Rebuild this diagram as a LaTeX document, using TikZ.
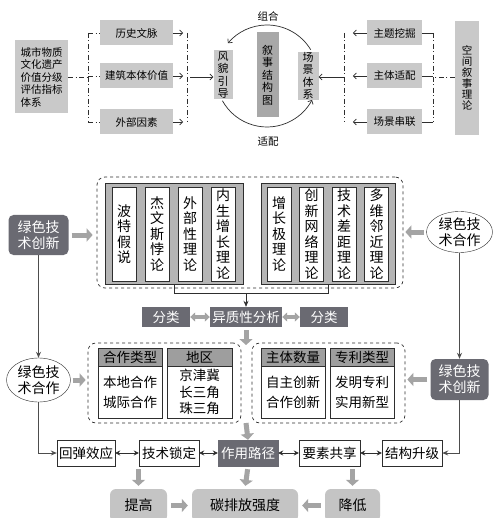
\documentclass[tikz,border=0pt]{standalone}
\usepackage{fontspec}
\setmainfont{Noto Sans CJK SC}
\usetikzlibrary{positioning,arrows.meta,calc,shapes.geometric}
\definecolor{boxgray}{HTML}{C9C9C9}
\definecolor{coregray}{HTML}{A8A8A8}
\definecolor{darkbox}{HTML}{6A6A72}
\definecolor{grpgray}{HTML}{B5B5B5}
\definecolor{hdrgray}{HTML}{9E9E9E}
\definecolor{fatgray}{HTML}{A4A4A4}
\definecolor{botgray}{HTML}{C4C4C4}
\definecolor{ink}{HTML}{2E2E2E}

\begin{document}
\begin{tikzpicture}[x=1pt,y=-1pt,
    every node/.style={inner sep=1pt},
    gbox/.style={fill=boxgray,minimum height=25pt,font=\fontsize{10.5}{12.5}\selectfont},
    vbox/.style={fill=boxgray,align=center,inner sep=0pt,font=\fontsize{11}{12.5}\selectfont},
    col/.style={draw=ink,fill=white,minimum width=24pt,minimum height=94pt,inner sep=0pt,align=center,font=\fontsize{14}{15.5}\selectfont},
    grp/.style={draw=ink,fill=grpgray,minimum height=101pt},
    dbox/.style={fill=darkbox,text=white,minimum height=20pt,font=\fontsize{13.5}{15}\selectfont},
    wbox/.style={draw=ink,fill=white,minimum height=26pt,font=\fontsize{13.5}{15}\selectfont},
    hdr/.style={draw=ink,fill=hdrgray,minimum height=18pt,font=\fontsize{13.5}{15}\selectfont},
    tbody/.style={draw=ink,fill=white,minimum height=52pt,align=center},
    dashbox/.style={draw=ink,dashed,line width=0.7pt,rounded corners=8pt},
    gdark/.style={fill=darkbox,text=white,rounded corners=5pt,align=center,font=\fontsize{14}{16}\selectfont},
    gell/.style={ellipse,draw=ink,fill=white,inner sep=0pt,align=center,font=\fontsize{14}{16}\selectfont},
    bbox/.style={fill=botgray,rounded corners=6pt,minimum height=33pt,font=\fontsize{14}{16}\selectfont},
    ddline/.style={ink,line width=0.9pt,dash pattern=on 5pt off 2.5pt on 1pt off 2.5pt},
    conn/.style={ink,line width=0.7pt,-{Straight Barb[length=3pt,width=6pt]}},
    vline/.style={ink!85,line width=1pt,-{Stealth[length=6pt,width=5pt]}},
    fat/.style={fatgray,line width=5pt,-{Triangle[length=6pt,width=13pt]}},
    fattwo/.style={fatgray,line width=3.5pt,{Triangle[length=5pt,width=9pt]}-{Triangle[length=5pt,width=9pt]}},
    dbl/.style={ink,line width=0.8pt,{Stealth[length=5pt,width=5pt]}-{Stealth[length=5pt,width=5pt]}}]
  \useasboundingbox (0,0) rectangle (500,518);
  \path[fill=white] (0,0) rectangle (500,518);

  % top: narrative structure
  \node[gbox,minimum width=53pt,minimum height=73pt,align=left] (src) at (41.5,77) {城市物质\\文化遗产\\价值分级\\评估指标\\体系};
  \node[gbox,minimum width=73pt] (hist) at (136.5,33) {历史文脉};
  \node[gbox,minimum width=73pt] (arch) at (136.5,76) {建筑本体价值};
  \node[gbox,minimum width=73pt] (outf) at (136.5,122) {外部因素};
  \node[vbox,minimum width=19pt,minimum height=49pt] (fm) at (223,75) {风\\貌\\引\\导};
  \node[vbox,fill=coregray,minimum width=22pt,minimum height=85pt] (core) at (267.5,75) {叙\\事\\结\\构\\图};
  \node[vbox,minimum width=21pt,minimum height=48pt] (cj) at (308,76) {场\\景\\体\\系};
  \node[vbox,minimum width=24pt,minimum height=114pt,font=\fontsize{10.5}{11}\selectfont] (kj) at (467,78) {空\\间\\叙\\事\\理\\论};
  \node[gbox,minimum width=55pt] (zt) at (394.5,33) {主题挖掘};
  \node[gbox,minimum width=55pt] (zs) at (394.5,76) {主体适配};
  \node[gbox,minimum width=55pt] (cl) at (394.5,122) {场景串联};
  \node[font=\fontsize{10.5}{12}\selectfont] (zh) at (268,16) {组合};
  \node[font=\fontsize{10.5}{12}\selectfont] (sp) at (268,142) {适配};

  \coordinate (b1) at (88,77);
  \coordinate (b2) at (187,77);
  \coordinate (b3) at (344,77);
  \coordinate (b4) at (433,77);
  \draw[ddline] (src.east |- b1) -- (b1);
  \draw[ddline] (hist.west -| b1) -- (outf.west -| b1);
  \foreach \n in {hist,arch,outf}
    \draw[ddline] (\n.west -| b1) -- (\n.west);
  \foreach \n in {hist,arch,outf}
    \draw[conn] (\n.east) -- ++(10,0);
  \draw[ddline] (hist.east -| b2) -- (outf.east -| b2);
  \draw[conn] (b2) ++(3,0) -- (fm.west |- b2);
  \draw[ddline] (kj.west |- b4) -- (b4);
  \draw[ddline] (zt.east -| b4) -- (cl.east -| b4);
  \foreach \n in {zt,zs,cl}
    \draw[ink,line width=0.7pt] (\n.east) -- (\n.east -| b4);
  \foreach \n in {zt,zs,cl}
    \draw[conn] (\n.west) -- ++(-14,0);
  \draw[ddline] (zt.west -| b3) -- (cl.west -| b3);
  \draw[conn] (b3) -- (cj.east |- b3);
  \coordinate (cc) at (267,76);
  \draw[conn] (cc) ++(-31:51) arc[start angle=-31,end angle=-140,radius=51];
  \draw[conn] (cc) ++(151:51) arc[start angle=151,end angle=28,radius=51];

  % middle: theories
  \node[dashbox,minimum width=306pt,minimum height=111pt] (theo) at (250,232.5) {};
  \node[grp,minimum width=138pt] (grpL) at (174,233.5) {};
  \node[grp,minimum width=134pt] (grpR) at (328,233.5) {};
  \node[col] (c1) at (124,234) {波\\特\\假\\说};
  \node[col] (c2) at (157,234) {杰\\文\\斯\\悖\\论};
  \node[col] (c3) at (190,234) {外\\部\\性\\理\\论};
  \node[col] (c4) at (223,234) {内\\生\\增\\长\\理\\论};
  \node[col] (c5) at (279,234) {增\\长\\极\\理\\论};
  \node[col] (c6) at (311.5,234) {创\\新\\网\\络\\理\\论};
  \node[col] (c7) at (344,234) {技\\术\\差\\距\\理\\论};
  \node[col] (c8) at (376.5,234) {多\\维\\邻\\近\\理\\论};
  \draw[ink,line width=0.7pt] (grpL.south) -- ++(0,9) -| (grpR.south);
  \coordinate (brk) at (246,293);

  \node[dbox,minimum width=48pt] (clsL) at (166,317) {分类};
  \node[dbox,minimum width=72pt] (het) at (246,317) {异质性分析};
  \node[dbox,minimum width=48pt] (clsR) at (324,317) {分类};
  \draw[ink,line width=0.7pt,-{Stealth[length=6pt,width=5pt]}] (brk) -- (het.north);
  \draw[fattwo] (clsL) -- (het);
  \draw[fattwo] (het) -- (clsR);

  % lower: classification tables
  \node[dashbox,minimum width=153pt,minimum height=80pt] (dashL) at (164.5,383) {};
  \node[dashbox,minimum width=153pt,minimum height=80pt] (dashR) at (328.5,383) {};
  \node[tbody,minimum width=64pt,font=\fontsize{13.5}{20}\selectfont] (coopB) at (130,392) {本地合作\\城际合作};
  \node[hdr,minimum width=64pt] (coopH) at (130,357) {合作类型};
  \node[tbody,minimum width=65pt,font=\fontsize{13.5}{16.5}\selectfont] (regB) at (199.5,392) {京津冀\\长三角\\珠三角};
  \node[hdr,minimum width=65pt] (regH) at (199.5,357) {地区};
  \node[tbody,minimum width=64pt,font=\fontsize{13.5}{20}\selectfont] (numB) at (293,392) {自主创新\\合作创新};
  \node[hdr,minimum width=64pt] (numH) at (293,357) {主体数量};
  \node[tbody,minimum width=64pt,font=\fontsize{13.5}{20}\selectfont] (patB) at (362,392) {发明专利\\实用新型};
  \node[hdr,minimum width=64pt] (patH) at (362,357) {专利类型};
  \coordinate (tabtop) at (246,345);
  \coordinate (tabbot) at (246,423);
  \draw[fat,shorten <=3pt] (het.south) -- (tabtop);

  % side: green technology
  \node[gdark,minimum width=60pt,minimum height=40pt] (gtiL) at (38.5,235) {绿色技\\术创新};
  \node[gell,minimum width=64pt,minimum height=44pt] (gtcL) at (38.5,380) {绿色技\\术合作};
  \node[gell,minimum width=66pt,minimum height=41pt] (gtcR) at (459.5,232) {绿色技\\术合作};
  \node[gdark,minimum width=58pt,minimum height=41pt] (gtiR) at (459.5,379.5) {绿色技\\术创新};
  \draw[fat,shorten <=3pt,shorten >=4pt] (gtiL.east) -- (theo.west |- gtiL.east);
  \draw[fat,shorten <=2pt,shorten >=2pt] (gtcL.east) -- (dashL.west |- gtcL.east);
  \draw[fat,shorten <=2pt,shorten >=2pt] (gtcR.west) -- (theo.east |- gtcR.west);
  \draw[fat,shorten <=3pt,shorten >=2pt] (gtiR.west) -- (dashR.east |- gtiR.west);

  % row of effects
  \node[wbox,minimum width=58pt] (hui) at (86,453) {回弹效应};
  \node[wbox,minimum width=60pt] (suo) at (169,453) {技术锁定};
  \node[wbox,fill=darkbox,draw=darkbox,text=white,minimum width=60pt] (path) at (248,453) {作用路径};
  \node[wbox,minimum width=61pt] (gx) at (329.5,453) {要素共享};
  \node[wbox,minimum width=60pt] (jg) at (412,453) {结构升级};
  \draw[dbl] (hui) -- (suo);
  \draw[dbl] (suo) -- (path);
  \draw[dbl] (path) -- (gx);
  \draw[dbl] (gx) -- (jg);
  \draw[vline] (gtiL.south) -- (gtcL.north);
  \draw[vline] (gtcL.south) |- (hui.west);
  \draw[vline] (gtcR.south) -- (gtiR.north);
  \draw[vline] (gtiR.south) |- (jg.east);
  \draw[fat] (tabbot) -- (path.north);

  % bottom: carbon intensity
  \node[bbox,minimum width=57pt] (up) at (138.5,505.5) {提高};
  \node[bbox,minimum width=106pt] (ce) at (245,505.5) {碳排放强度};
  \node[bbox,minimum width=55pt] (dn) at (352.5,505.5) {降低};
  \draw[fat,shorten <=3pt,shorten >=3pt] (up.north |- suo.south) -- (up.north);
  \draw[fat,shorten <=3pt,shorten >=3pt] (path.south) -- (ce.north);
  \draw[fat,shorten <=3pt,shorten >=3pt] (dn.north |- gx.south) -- (dn.north);
  \draw[fat,shorten <=4pt,shorten >=4pt] (up.east) -- (ce.west);
  \draw[fat,shorten <=4pt,shorten >=4pt] (dn.west) -- (ce.east);
\end{tikzpicture}
\end{document}
